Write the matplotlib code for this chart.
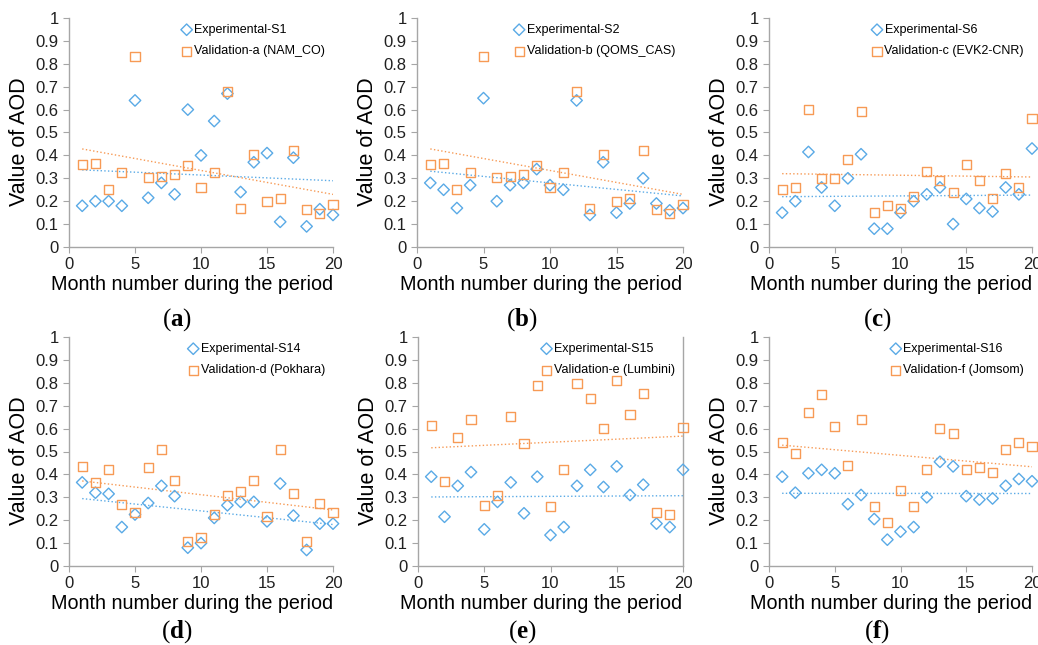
import numpy as np
import matplotlib
matplotlib.use("Agg")
from matplotlib import pyplot as plt

plt.rcParams['font.family'] = ['Liberation Sans', 'DejaVu Sans']
plt.rcParams['mathtext.fontset'] = 'custom'
plt.rcParams['mathtext.rm'] = 'Liberation Serif'
plt.rcParams['mathtext.bf'] = 'Liberation Serif:bold'

months = np.arange(1, 21)

# panel (a)
exp_s1 = [0.18, 0.20, 0.20, 0.18, 0.64, 0.215, 0.28, 0.23, 0.60, 0.40,
          0.55, 0.67, 0.24, 0.37, 0.41, 0.11, 0.39, 0.09, 0.165, 0.14]
val_a = [0.36, 0.365, 0.25, 0.325, 0.83, 0.305, 0.31, 0.315, 0.355, 0.26,
         0.325, 0.68, 0.17, 0.405, 0.20, 0.21, 0.42, 0.165, 0.145, 0.185]
# panel (b)
exp_s2 = [0.28, 0.25, 0.17, 0.27, 0.65, 0.20, 0.27, 0.28, 0.34, 0.27,
          0.25, 0.64, 0.14, 0.37, 0.15, 0.19, 0.30, 0.19, 0.16, 0.17]
val_b = [0.36, 0.365, 0.25, 0.325, 0.83, 0.305, 0.31, 0.315, 0.355, 0.26,
         0.325, 0.68, 0.17, 0.405, 0.20, 0.21, 0.42, 0.165, 0.145, 0.185]
# panel (c)
exp_s6 = [0.15, 0.20, 0.415, 0.26, 0.18, 0.30, 0.405, 0.08, 0.08, 0.15,
          0.20, 0.23, 0.26, 0.10, 0.21, 0.17, 0.155, 0.26, 0.23, 0.43]
val_c = [0.25, 0.26, 0.60, 0.30, 0.30, 0.38, 0.59, 0.15, 0.18, 0.17,
         0.22, 0.33, 0.29, 0.24, 0.36, 0.29, 0.21, 0.32, 0.26, 0.56]
# panel (d)
exp_s14 = [0.365, 0.32, 0.315, 0.17, 0.225, 0.275, 0.35, 0.305, 0.08, 0.10,
           0.21, 0.265, 0.28, 0.28, 0.195, 0.36, 0.22, 0.07, 0.185, 0.185]
val_d = [0.435, 0.365, 0.42, 0.27, 0.235, 0.43, 0.51, 0.375, 0.105, 0.125,
         0.225, 0.31, 0.325, 0.375, 0.215, 0.51, 0.315, 0.105, 0.275, 0.235]
# panel (e)
exp_s15 = [0.39, 0.215, 0.35, 0.41, 0.16, 0.28, 0.365, 0.23, 0.39, 0.135,
           0.17, 0.35, 0.42, 0.345, 0.435, 0.31, 0.355, 0.185, 0.17, 0.42]
val_e = [0.615, 0.37, 0.56, 0.64, 0.265, 0.31, 0.655, 0.535, 0.79, 0.26,
         0.42, 0.795, 0.73, 0.60, 0.81, 0.66, 0.755, 0.235, 0.225, 0.605]
# panel (f)
exp_s16 = [0.39, 0.32, 0.405, 0.42, 0.405, 0.27, 0.31, 0.205, 0.115, 0.15,
           0.17, 0.30, 0.455, 0.435, 0.305, 0.29, 0.295, 0.35, 0.38, 0.37]
val_f = [0.54, 0.49, 0.67, 0.75, 0.61, 0.44, 0.64, 0.26, 0.19, 0.33,
         0.26, 0.42, 0.60, 0.58, 0.42, 0.43, 0.41, 0.51, 0.54, 0.52]

exp_names = ['Experimental-S1', 'Experimental-S2', 'Experimental-S6',
             'Experimental-S14', 'Experimental-S15', 'Experimental-S16']
val_names = ['Validation-a (NAM_CO)', 'Validation-b (QOMS_CAS)',
             'Validation-c (EVK2-CNR)', 'Validation-d (Pokhara)',
             'Validation-e (Lumbini)', 'Validation-f (Jomsom)']
panel_tags = ['a', 'b', 'c', 'd', 'e', 'f']
exp_data = [exp_s1, exp_s2, exp_s6, exp_s14, exp_s15, exp_s16]
val_data = [val_a, val_b, val_c, val_d, val_e, val_f]

blue = '#5AAAE6'
orange = '#F79A55'
grey = '#A6A6A6'

W, H = 1038, 645
fig = plt.figure(figsize=(W / 100, H / 100), dpi=100)

# axes boxes in pixels: left, top, right, bottom
boxes = [(69, 18, 333, 247), (417, 18, 683, 247), (769, 18, 1032, 247),
         (69, 337, 333, 566), (418, 337, 683, 566), (769, 337, 1032, 566)]
tag_x = [177, 522, 877, 177, 522, 877]

for k in range(6):
    l, t, r, b = boxes[k]
    ax = fig.add_axes([l / W, 1 - b / H, (r - l) / W, (b - t) / H])
    ex = np.array(exp_data[k])
    va = np.array(val_data[k])
    ax.scatter(months, ex, marker='D', s=34, facecolors='none',
               edgecolors=blue, linewidths=1.0, label=exp_names[k], zorder=3,
               clip_on=False)
    ax.scatter(months, va, marker='s', s=42, facecolors='none',
               edgecolors=orange, linewidths=1.0, label=val_names[k], zorder=3,
               clip_on=False)
    # linear trend lines
    for y, c in [(ex, blue), (va, orange)]:
        m, q = np.polyfit(months, y, 1)
        ax.plot([1, 20], [m * 1 + q, m * 20 + q], ls=':', lw=1.0, color=c,
                zorder=2)

    ax.set_xlim(0, 20)
    ax.set_ylim(0, 1)
    ax.set_xticks([0, 5, 10, 15, 20])
    ax.set_yticks(np.arange(0, 1.01, 0.1))
    ax.set_yticklabels(['0'] + ['%.1f' % v for v in np.arange(0.1, 0.95, 0.1)] + ['1'])
    ax.tick_params(labelsize=12, length=4, width=0.8,
                   direction='out', labelcolor='#202020', color=grey)
    for s in ['top', 'right']:
        ax.spines[s].set_visible(False)
    if k == 4:
        ax.spines['right'].set_visible(True)
    for s in ['left', 'bottom', 'right']:
        ax.spines[s].set_color(grey)
        ax.spines[s].set_linewidth(1.0)
    ax.set_ylabel('Value of AOD', fontsize=15.5, labelpad=4)
    ax.set_xlabel('Month number during the period', fontsize=14.2, labelpad=2)
    ax.xaxis.label.set_x(0.5 - 9 / (r - l))
    ax.yaxis.label.set_y(0.5 - 9 / (b - t))

    ax.legend(loc='upper right',
              bbox_to_anchor=(1.0 - 3 / (r - l), 1.0 - 1 / (b - t)),
              fontsize=9, frameon=False, handletextpad=0.2,
              handlelength=0.8, borderaxespad=0.0, labelspacing=0.75,
              scatterpoints=1)

    ty = 320 if k < 3 else 632
    fig.text(tag_x[k] / W, 1 - ty / H,
             r'$\mathrm{(}\mathbf{' + panel_tags[k] + r'}\mathrm{)}$',
             fontsize=18, ha='center', va='center')

fig.savefig('out.png', dpi=100)
